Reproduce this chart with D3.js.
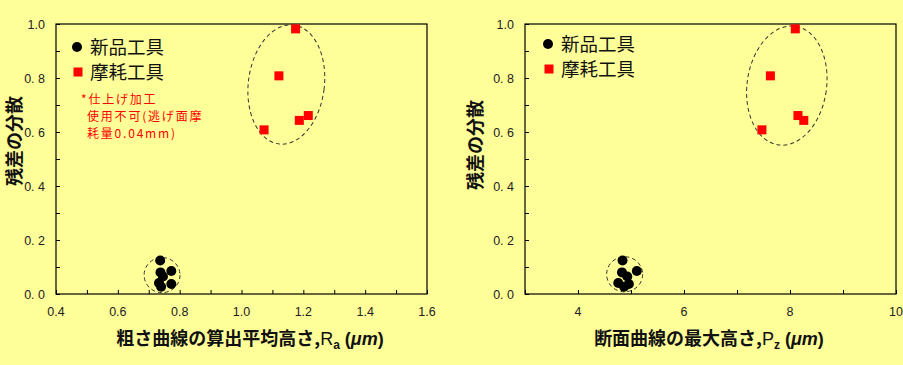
<!DOCTYPE html>
<html><head><meta charset="utf-8">
<script src="https://cdn.jsdelivr.net/npm/d3@7"></script>
<style>
html,body{margin:0;padding:0;background:#FFFF99;}
svg{display:block;}
</style></head>
<body>
<svg id="c" width="903" height="365"></svg>
<script>
// ---- data ----
const newRa = [0.737, 0.738, 0.746, 0.773, 0.733, 0.773, 0.740];
const newVar = [0.124, 0.080, 0.065, 0.085, 0.041, 0.037, 0.027];
const wornRa = [1.175, 1.121, 1.216, 1.187, 1.073];
const wornVar = [0.982, 0.808, 0.661, 0.643, 0.608];
const newPz = [4.84, 4.83, 4.93, 5.11, 4.76, 4.96, 4.87];
const wornPz = [8.10, 7.63, 8.15, 8.26, 7.47];
const legendLabels = ["新品工具", "摩耗工具"];
const yTickLabels = ["0. 0", "0. 2", "0. 4", "0. 6", "0. 8", "1.0"];
const xTicksRa = [0.4, 0.6, 0.8, 1.0, 1.2, 1.4, 1.6];
const xTicksPz = [4, 6, 8, 10];
const note = ["*仕上げ加工", "使用不可(逃げ面摩", "耗量0.04mm)"];
// ellipses: [cx, cy, rxData, ryData, rotateDeg]
const ellRa = [[1.145, 0.776, 0.123, 0.222, 7], [0.743, 0.070, 0.058, 0.065, 0]];
const ellPz = [[7.94, 0.772, 0.75, 0.222, 8], [4.88, 0.073, 0.34, 0.065, 0]];

const svg = d3.select("#c");
const JP = "'Noto Sans CJK JP','Noto Sans',sans-serif";
const LAT = "'Liberation Sans',Arial,sans-serif";

function panel(opt){
  const x = d3.scaleLinear().domain(opt.xdom).range(opt.xr);
  const y = d3.scaleLinear().domain([0,1]).range([294,24]);
  const g = svg.append("g");
  g.append("rect").attr("x",opt.xr[0]).attr("y",24).attr("width",opt.xr[1]-opt.xr[0]).attr("height",270)
    .attr("fill","none").attr("stroke","#000").attr("stroke-width",1.2);
  const xa = d3.axisBottom(x).tickValues(opt.minorX).tickSize(-4).tickFormat("");
  g.append("g").attr("transform","translate(0,294)").call(xa)
    .call(s=>{s.select(".domain").remove(); s.selectAll("line").attr("stroke","#000");});
  g.selectAll(".xl").data(opt.xticks).join("text")
    .attr("x",d=>x(d)).attr("y",316).attr("text-anchor","middle")
    .attr("font-family",LAT).attr("font-size",12.5).attr("fill","#222")
    .text(d=>opt.xfmt(d));
  const ya = d3.axisLeft(y).tickValues(d3.range(0,1.01,0.1)).tickSize(-4).tickFormat("");
  g.append("g").attr("transform",`translate(${opt.xr[0]},0)`).call(ya)
    .call(s=>{s.select(".domain").remove(); s.selectAll("line").attr("stroke","#000");});
  g.selectAll(".yl").data(yTickLabels).join("text")
    .attr("x",opt.xr[0]-11).attr("y",(d,i)=>y(i*0.2)+4.5).attr("text-anchor","end")
    .attr("font-family",LAT).attr("font-size",12.5).attr("fill","#222")
    .text(d=>d);
  opt.ells.forEach(e=>{
    const cx=x(e[0]), cy=y(e[1]);
    const rx=Math.abs(x(e[0]+e[2])-cx), ry=Math.abs(y(e[1]+e[3])-cy);
    g.append("ellipse").attr("cx",cx).attr("cy",cy).attr("rx",rx).attr("ry",ry)
      .attr("transform",`rotate(${e[4]},${cx},${cy})`)
      .attr("fill","none").attr("stroke","#333").attr("stroke-width",1).attr("stroke-dasharray","4,3");
  });
  g.selectAll(".n").data(opt.nx).join("circle")
    .attr("cx",d=>x(d)).attr("cy",(d,i)=>y(newVar[i])).attr("r",5).attr("fill","#000");
  g.selectAll(".w").data(opt.wx).join("rect")
    .attr("x",d=>x(d)-4.5).attr("y",(d,i)=>y(wornVar[i])-4.5).attr("width",9).attr("height",9).attr("fill","#FF0000");
  const lx = opt.xr[0]+opt.legDx;
  g.append("circle").attr("cx",lx).attr("cy",opt.legY).attr("r",5).attr("fill","#000");
  g.append("rect").attr("x",lx-4.5+1).attr("y",opt.legY+25-4.5).attr("width",9).attr("height",9).attr("fill","#FF0000");
  g.selectAll(".lg").data(legendLabels).join("text")
    .attr("x",lx+13).attr("y",(d,i)=>opt.legY+7+i*25)
    .attr("font-family",JP).attr("font-size",18.5).attr("fill","#111").text(d=>d);
  g.append("text").attr("transform",`translate(${opt.ytx},${opt.yty}) rotate(-90)`)
    .attr("text-anchor","middle").attr("font-family",JP).attr("font-weight","bold")
    .attr("font-size",18).attr("fill","#111").text("残差の分散");
  const t = g.append("text").attr("x",opt.xtx).attr("y",345).attr("text-anchor","middle")
    .attr("font-family",JP).attr("font-weight","bold").attr("font-size",18).attr("fill","#111");
  t.append("tspan").text(opt.xtitle);
  t.append("tspan").attr("font-family",LAT).attr("font-weight","normal").text(opt.sym);
  t.append("tspan").attr("font-family",LAT).attr("font-size",12).attr("dy",4).text(opt.sub);
  t.append("tspan").attr("font-family",LAT).attr("dy",-4).text(" (");
  t.append("tspan").attr("font-family",LAT).attr("font-style","italic").attr("font-weight","bold").text("μm");
  t.append("tspan").attr("font-family",LAT).attr("font-weight","bold").text(")");
  return {x,y,g};
}

panel({xdom:[0.4,1.6], xr:[56,427], xticks:xTicksRa, minorX:d3.range(0.4,1.61,0.1),
  xfmt:d=>d.toFixed(1), nx:newRa, wx:wornRa, ells:ellRa, legDx:21, legY:47,
  ytx:21, yty:141, xtx:250, xtitle:"粗さ曲線の算出平均高さ,", sym:"R", sub:"a"});
panel({xdom:[3,10], xr:[525,896], xticks:xTicksPz, minorX:d3.range(3,10.01,1),
  xfmt:d=>String(d), nx:newPz, wx:wornPz, ells:ellPz, legDx:23, legY:44,
  ytx:482, yty:145, xtx:709, xtitle:"断面曲線の最大高さ,", sym:"P", sub:"z"});

svg.selectAll(".note").data(note).join("text")
  .attr("x",(d,i)=>i===0?81:87).attr("y",(d,i)=>104+i*17)
  .attr("font-family",JP).attr("font-size",12).attr("letter-spacing",1.8)
  .attr("fill","#FF0000").text(d=>d);
</script>
</body></html>
